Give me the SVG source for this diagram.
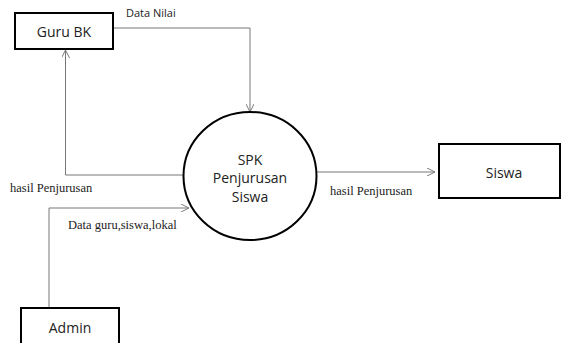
<svg xmlns="http://www.w3.org/2000/svg" width="567" height="343" viewBox="0 0 567 343">
<style>
.box{fill:#fff;stroke:#000;stroke-width:2}
.node{font-family:"Open Sans","Noto Sans",sans-serif;font-size:14px;fill:#222;text-anchor:middle}
.conn{fill:none;stroke:#777;stroke-width:1}
.lbl{font-family:"Liberation Serif",serif;font-size:12.5px;fill:#222}
.lbls{font-family:"Open Sans","Noto Sans",sans-serif;font-size:11px;fill:#222}
</style>
<defs>
<marker id="arr" viewBox="0 0 10 10" refX="10" refY="5" markerWidth="8" markerHeight="8" orient="auto" markerUnits="userSpaceOnUse">
<path d="M0,0 L10,5 L0,10" fill="none" stroke="#777" stroke-width="1.2"/>
</marker>
</defs>
<g id="connectors">
<path class="conn" d="M113,28 H250 V112" marker-end="url(#arr)"/>
<path class="conn" d="M183,175 H65.5 V50" marker-end="url(#arr)"/>
<path class="conn" d="M316,172 H435" marker-end="url(#arr)"/>
<path class="conn" d="M49,308 V208 H189" marker-end="url(#arr)"/>
<text class="lbls" x="126" y="17">Data Nilai</text>
<text class="lbl" x="10" y="192">hasil Penjurusan</text>
<text class="lbl" x="330" y="195">hasil Penjurusan</text>
<text class="lbl" x="68" y="229">Data guru,siswa,lokal</text>
</g>
<g id="guru-bk">
<rect class="box" x="15" y="13" width="98" height="36"/>
<text class="node" x="64" y="37">Guru BK</text>
</g>
<g id="spk">
<ellipse cx="250" cy="176" rx="66.5" ry="64" fill="#fff" stroke="#000" stroke-width="2"/>
<text class="node" x="250" y="165">SPK</text>
<text class="node" x="250" y="183">Penjurusan</text>
<text class="node" x="250" y="202">Siswa</text>
</g>
<g id="siswa">
<rect class="box" x="439" y="144" width="121" height="54"/>
<text class="node" x="504" y="178">Siswa</text>
</g>
<g id="admin">
<rect class="box" x="21" y="308" width="98" height="40"/>
<text class="node" x="70" y="333">Admin</text>
</g>
</svg>
